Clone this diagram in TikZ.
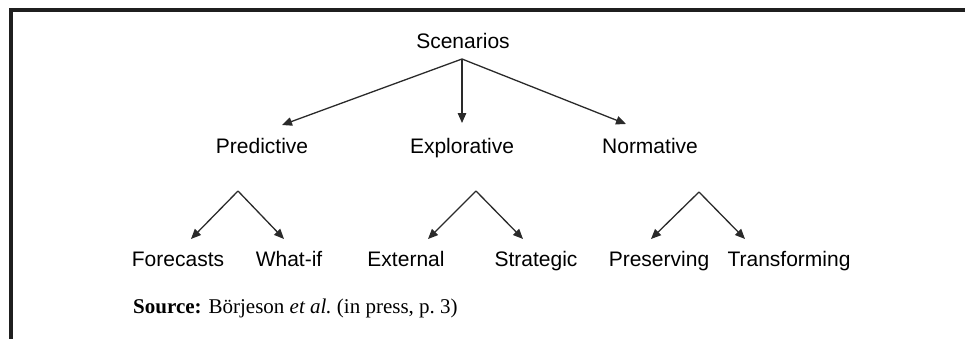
\documentclass[tikz,border=0pt]{standalone}
\usepackage{fontspec}
\setmainfont{Liberation Serif}
\newfontfamily\arialfont{Liberation Sans}
\usetikzlibrary{arrows.meta}
\definecolor{linegray}{HTML}{2A2A2A}
\tikzset{
  lbl/.style={font=\arialfont\fontsize{21}{24}\selectfont, anchor=base, inner sep=0pt},
  conn/.style={draw=linegray, line width=1.3pt, -{Triangle[length=10pt,width=8.5pt]}},
  frame/.style={draw=black!88, line width=3.3pt}
}
\begin{document}
\begin{tikzpicture}[x=1pt,y=-1pt]
\useasboundingbox (0,0) rectangle (965,338);
% frame (top and left only)
\coordinate (fbl) at (11,340);
\coordinate (ftl) at (11,10);
\coordinate (ftr) at (967,10);
\draw[frame] (fbl) -- (ftl) -- (ftr);
% nodes
\node[lbl] (scen) at (463,48) {Scenarios};
\node[lbl] (pred) at (262,153) {Predictive};
\node[lbl] (expl) at (462,153) {Explorative};
\node[lbl] (norm) at (650,153) {Normative};
\node[lbl] (fore) at (178,266) {Forecasts};
\node[lbl] (what) at (289,266) {What-if};
\node[lbl] (ext) at (406,266) {External};
\node[lbl] (strat) at (536,266) {Strategic};
\node[lbl] (pres) at (659,266) {Preserving};
\node[lbl] (trans) at (789,266) {Transforming};
\node[anchor=base west, inner sep=0pt, font=\fontsize{21}{24}\selectfont] (src) at (133,313) {\textbf{Source:} Börjeson \textit{et al.}\ (in press, p.~3)};
% apex points and arrow tips
\coordinate (a0) at (462,59);
\coordinate (tpred) at (282,125);
\coordinate (texpl) at (462,123);
\coordinate (tnorm) at (626,124);
\coordinate (a1) at (238,191);
\coordinate (tfore) at (191,239);
\coordinate (twhat) at (284,239);
\coordinate (a2) at (476,191);
\coordinate (text) at (428,239);
\coordinate (tstrat) at (523,239);
\coordinate (a3) at (699,192);
\coordinate (tpres) at (651,239);
\coordinate (ttrans) at (745,239);
% connectors
\draw[conn] (a0) -- (tpred);
\draw[conn] (a0) -- (texpl);
\draw[conn] (a0) -- (tnorm);
\draw[conn] (a1) -- (tfore);
\draw[conn] (a1) -- (twhat);
\draw[conn] (a2) -- (text);
\draw[conn] (a2) -- (tstrat);
\draw[conn] (a3) -- (tpres);
\draw[conn] (a3) -- (ttrans);
\end{tikzpicture}
\end{document}
